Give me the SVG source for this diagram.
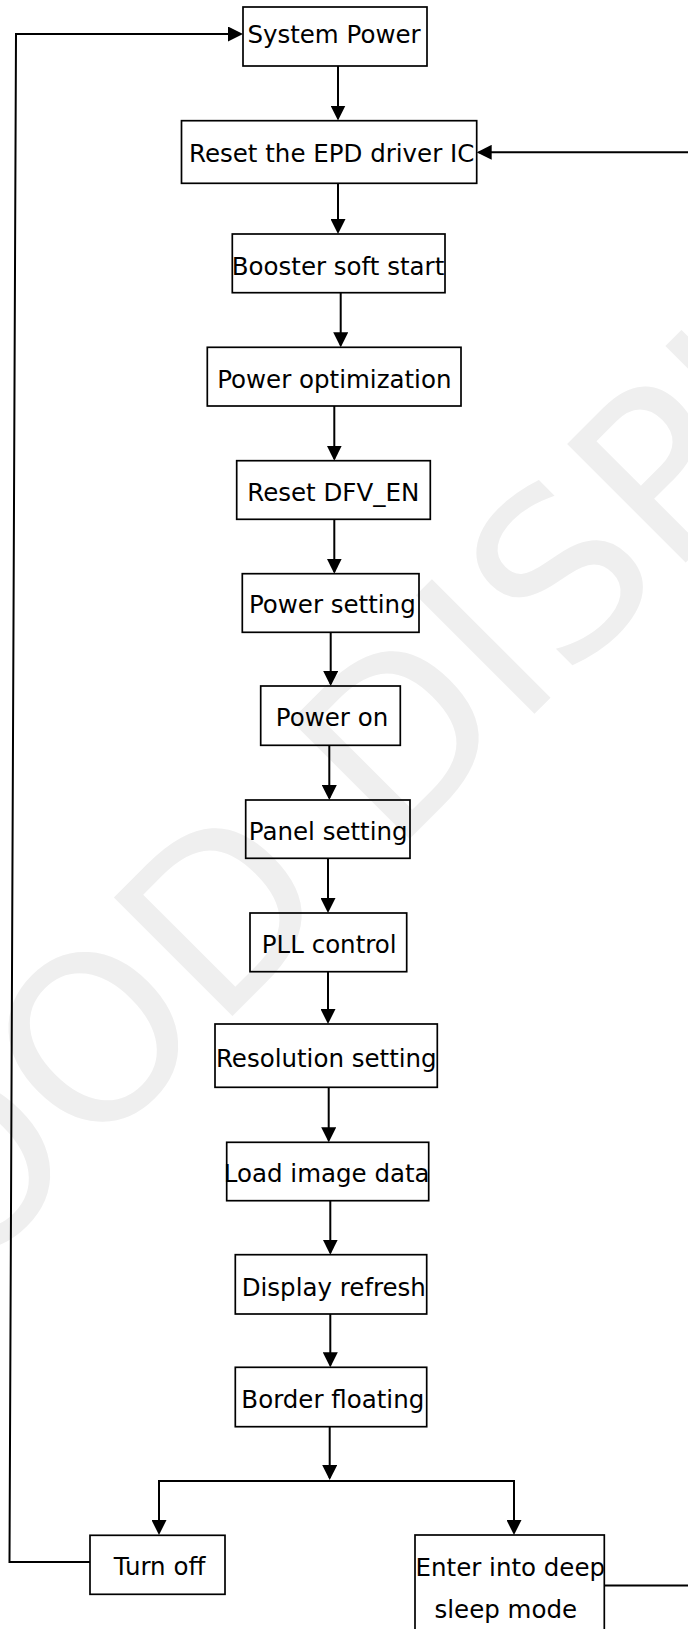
<svg xmlns="http://www.w3.org/2000/svg" width="688" height="1629" viewBox="0 0 688 1629">
<style>
.box{fill:none;stroke:#000000;stroke-width:1.7}
.lbl{font-family:"DejaVu Sans","Liberation Sans",sans-serif;font-size:24.5px;fill:#000000;text-anchor:middle}
.con{fill:none;stroke:#000000;stroke-width:2}
.wm{font-family:"DejaVu Sans","Liberation Sans",sans-serif;font-size:230px;fill:#efefef}
</style>
<defs>
<marker id="ah" markerUnits="userSpaceOnUse" markerWidth="15" markerHeight="15" viewBox="0 0 15 15" refX="13" refY="7.5" orient="auto">
<path d="M0,0 L15,7.5 L0,15 z" fill="#000000"/>
</marker>
</defs>
<rect x="0" y="0" width="688" height="1629" fill="#ffffff"/>
<text class="wm" x="0" y="0" transform="translate(-165.6,1414) rotate(-45)">GOOD DISPLAY</text>
<g id="connectors">
<line class="con" x1="338" y1="66" x2="338" y2="118.5" marker-end="url(#ah)"/>
<line class="con" x1="338" y1="183.3" x2="338" y2="232" marker-end="url(#ah)"/>
<line class="con" x1="340.7" y1="292.7" x2="340.7" y2="345.3" marker-end="url(#ah)"/>
<line class="con" x1="334.3" y1="406" x2="334.3" y2="458.7" marker-end="url(#ah)"/>
<line class="con" x1="334.3" y1="519.3" x2="334.3" y2="571.7" marker-end="url(#ah)"/>
<line class="con" x1="330.7" y1="632.3" x2="330.7" y2="684" marker-end="url(#ah)"/>
<line class="con" x1="329.3" y1="745.3" x2="329.3" y2="798" marker-end="url(#ah)"/>
<line class="con" x1="328" y1="858.3" x2="328" y2="911" marker-end="url(#ah)"/>
<line class="con" x1="328" y1="971.7" x2="328" y2="1022" marker-end="url(#ah)"/>
<line class="con" x1="328.7" y1="1087.3" x2="328.7" y2="1140.3" marker-end="url(#ah)"/>
<line class="con" x1="330.3" y1="1200.7" x2="330.3" y2="1252.7" marker-end="url(#ah)"/>
<line class="con" x1="330.3" y1="1314" x2="330.3" y2="1365.3" marker-end="url(#ah)"/>
<line class="con" x1="329.7" y1="1426.7" x2="329.7" y2="1478" marker-end="url(#ah)"/>
<line class="con" x1="158" y1="1481" x2="515" y2="1481"/>
<line class="con" x1="159" y1="1481" x2="159" y2="1533" marker-end="url(#ah)"/>
<line class="con" x1="514" y1="1481" x2="514" y2="1533" marker-end="url(#ah)"/>
<polyline class="con" points="90,1562 9.5,1562 16,34 241,34" marker-end="url(#ah)"/>
<polyline class="con" points="604.3,1585.5 700,1585.5 700,152.3 478.7,152.3" marker-end="url(#ah)"/>
</g>
<g id="n1"><rect class="box" x="243" y="7" width="184" height="59"/><text class="lbl" x="334" y="43.3">System Power</text></g>
<g id="n2"><rect class="box" x="181.5" y="120.7" width="295.2" height="62.6"/><text class="lbl" x="331.7" y="161.7">Reset the EPD driver IC</text></g>
<g id="n3"><rect class="box" x="232.3" y="234" width="212.7" height="58.7"/><text class="lbl" x="338" y="275">Booster soft start</text></g>
<g id="n4"><rect class="box" x="207.3" y="347.3" width="253.7" height="58.7"/><text class="lbl" x="334.3" y="387.7">Power optimization</text></g>
<g id="n5"><rect class="box" x="236.7" y="460.7" width="193.6" height="58.6"/><text class="lbl" x="333.3" y="500.7">Reset DFV_EN</text></g>
<g id="n6"><rect class="box" x="242.3" y="573.7" width="176.7" height="58.6"/><text class="lbl" x="332.3" y="613.3">Power setting</text></g>
<g id="n7"><rect class="box" x="260.7" y="686" width="139.6" height="59.3"/><text class="lbl" x="332" y="726">Power on</text></g>
<g id="n8"><rect class="box" x="245.7" y="800" width="164.3" height="58.3"/><text class="lbl" x="328.2" y="840">Panel setting</text></g>
<g id="n9"><rect class="box" x="250" y="913" width="156.7" height="58.7"/><text class="lbl" x="329.2" y="953.3">PLL control</text></g>
<g id="n10"><rect class="box" x="215" y="1024" width="222.3" height="63.3"/><text class="lbl" x="326.3" y="1067.3">Resolution setting</text></g>
<g id="n11"><rect class="box" x="226.7" y="1142.3" width="202" height="58.4"/><text class="lbl" x="326.7" y="1181.7">Load image data</text></g>
<g id="n12"><rect class="box" x="235.3" y="1254.7" width="191.4" height="59.3"/><text class="lbl" x="333.8" y="1296">Display refresh</text></g>
<g id="n13"><rect class="box" x="235.3" y="1367.3" width="191.4" height="59.4"/><text class="lbl" x="332.8" y="1408.3">Border floating</text></g>
<g id="n14"><rect class="box" x="90" y="1535.3" width="135" height="59"/><text class="lbl" x="159.5" y="1575.3">Turn off</text></g>
<g id="n15"><rect class="box" x="415" y="1535" width="189.3" height="120"/><text class="lbl" x="510.3" y="1575.7">Enter into deep</text><text class="lbl" x="505.8" y="1617.7">sleep mode</text></g>
</svg>
